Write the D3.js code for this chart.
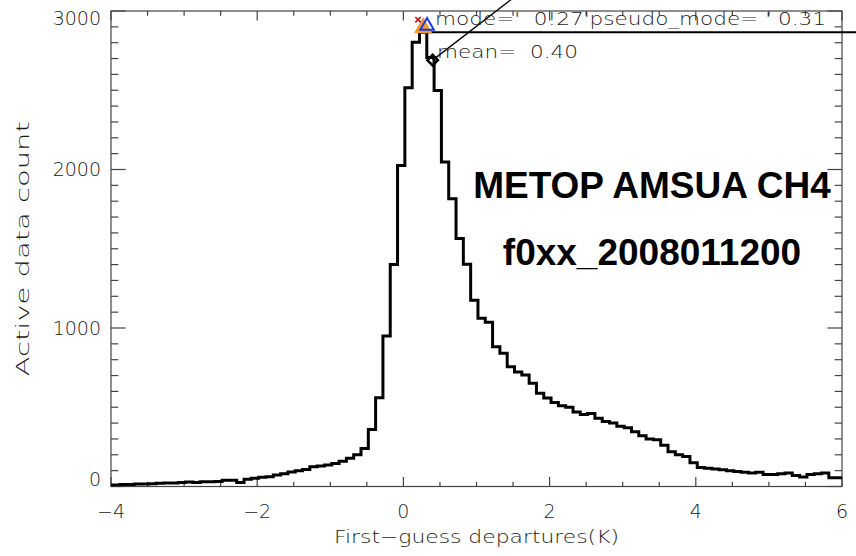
<!DOCTYPE html>
<html>
<head>
<meta charset="utf-8">
<script src="https://cdn.jsdelivr.net/npm/d3@7"></script>
<style>
  body { margin: 0; background: #fff; }
  svg { display: block; }
  .lab { font-family: "DejaVu Sans", sans-serif; font-weight: 200; fill: #1a1a1a; }
  .big { font-family: "Liberation Sans", Arial, sans-serif; font-weight: bold; fill: #000; }
</style>
</head>
<body>
<svg width="856" height="556"></svg>
<script>
// histogram of first-guess departures, bins 0.1 K wide
const binStart = -4.08;
const binWidth = 0.1;
const counts = [
  8, 10, 12, 12, 15, 16, 18, 20, 22, 22,
  25, 28, 25, 30, 30, 32, 40, 40, 25, 45,
  52, 58, 62, 72, 80, 92, 100, 108, 125, 130,
  135, 145, 160, 178, 200, 240, 360, 560, 950, 1400,
  2026, 2516, 2803, 2866, 2707, 2499, 2047, 1816, 1564, 1402,
  1175, 1062, 1037, 881, 841, 755, 723, 703, 652, 589,
  558, 530, 510, 500, 470, 455, 460, 430, 410, 400,
  380, 370, 345, 320, 300, 295, 260, 220, 200, 190,
  150, 120, 115, 110, 105, 100, 95, 90, 85, 90,
  75, 75, 80, 85, 70, 60, 75, 80, 85, 55,
  55
];
const xTicks = [-4, -2, 0, 2, 4, 6];
const yTicks = [0, 1000, 2000, 3000];
const mode = 0.27, pseudoMode = 0.31, mean = 0.40;
const modeCount = 2900, meanCount = 2690;
const title1 = "METOP AMSUA CH4";
const title2 = "f0xx_2008011200";

const svg = d3.select("svg");
const pLeft = 111, pRight = 842, pTop = 11, pBottom = 486.5;

const x = d3.scaleLinear().domain([-4, 6]).range([pLeft, pRight]);
const y = d3.scaleLinear().domain([0, 3000]).range([pBottom, pTop]);

svg.append("defs").append("clipPath").attr("id", "plotclip")
  .append("rect").attr("x", pLeft).attr("y", 0).attr("width", pRight - pLeft).attr("height", pBottom);

// axes (IDL style: ticks inside on all four sides)
const axisColor = "#444";
const majX = (pBottom - pTop) * 0.02, majY = (pRight - pLeft) * 0.02;
const g = svg.append("g");
g.append("rect").attr("x", pLeft).attr("y", pTop).attr("width", pRight - pLeft).attr("height", pBottom - pTop)
  .attr("fill", "none").attr("stroke", axisColor).attr("stroke-width", 1.2);

const xMinor = d3.range(-4, 6.001, 0.5);
xMinor.forEach(v => {
  const major = xTicks.some(t => Math.abs(t - v) < 1e-6);
  const len = major ? majX : majX / 2;
  g.append("line").attr("x1", x(v)).attr("x2", x(v)).attr("y1", pBottom).attr("y2", pBottom - len)
    .attr("stroke", axisColor).attr("stroke-width", 1.2);
  g.append("line").attr("x1", x(v)).attr("x2", x(v)).attr("y1", pTop).attr("y2", pTop + len)
    .attr("stroke", axisColor).attr("stroke-width", 1.2);
});
const yMinor = d3.range(0, 3001, 100);
yMinor.forEach(v => {
  const major = v % 1000 === 0;
  const len = major ? majY : majY / 2;
  g.append("line").attr("y1", y(v)).attr("y2", y(v)).attr("x1", pLeft).attr("x2", pLeft + len)
    .attr("stroke", axisColor).attr("stroke-width", 1.2);
  g.append("line").attr("y1", y(v)).attr("y2", y(v)).attr("x1", pRight).attr("x2", pRight - len)
    .attr("stroke", axisColor).attr("stroke-width", 1.2);
});

const fmt = d3.format("d");
g.selectAll(".xl").data(xTicks).enter().append("text").attr("class", "lab")
  .attr("x", d => x(d)).attr("y", 518).attr("text-anchor", "middle")
  .attr("font-size", 19).text(d => fmt(d));
g.selectAll(".yl").data(yTicks).enter().append("text").attr("class", "lab")
  .attr("x", 101).attr("y", d => Math.min(Math.max(y(d), pTop + 7), pBottom - 7.5))
  .attr("dy", "0.36em").attr("text-anchor", "end")
  .attr("font-size", 19).text(d => fmt(d));

g.append("text").attr("class", "lab").attr("x", (pLeft + pRight) / 2).attr("y", 543)
  .attr("text-anchor", "middle").attr("font-size", 18)
  .attr("textLength", 285).attr("lengthAdjust", "spacingAndGlyphs")
  .text("First\u2212guess departures(K)");
g.append("text").attr("class", "lab")
  .attr("transform", `translate(29, ${(pTop + pBottom) / 2}) rotate(-90)`)
  .attr("text-anchor", "middle").attr("font-size", 18)
  .attr("textLength", 255).attr("lengthAdjust", "spacingAndGlyphs")
  .text("Active data count");

// histogram step line
const steps = [];
counts.forEach((c, i) => {
  const x0 = binStart + i * binWidth;
  steps.push([x0, c], [x0 + binWidth, c]);
});
const line = d3.line().x(d => x(d[0])).y(d => y(d[1]));
svg.append("path").datum(steps).attr("d", line)
  .attr("clip-path", "url(#plotclip)")
  .attr("fill", "none").attr("stroke", "#000").attr("stroke-width", 3)
  .attr("stroke-linejoin", "miter");

// annotation lines (drawn unclipped, as in the original)
const peak = d3.max(counts);
svg.append("path").datum([[mode + binWidth / 2, peak], [7, peak]]).attr("d", line)
  .attr("stroke", "#000").attr("stroke-width", 2).attr("fill", "none");
svg.append("path").datum([[mean, meanCount], [3.22, 3695]]).attr("d", line)
  .attr("stroke", "#000").attr("stroke-width", 1.3).attr("fill", "none");

// markers
const tri = d3.symbol().type(d3.symbolTriangle).size(110);
svg.append("path").attr("d", tri).attr("transform", `translate(${x(mode)},${y(modeCount) + 1})`)
  .attr("fill", "#f59a2a").attr("stroke", "#f59a2a").attr("stroke-width", 1.5);
svg.append("path").attr("d", d3.symbol().type(d3.symbolTriangle).size(80))
  .attr("transform", `translate(${x(pseudoMode) + 1},${y(modeCount) - 1})`)
  .attr("fill", "none").attr("stroke", "#1a3ae8").attr("stroke-width", 2);
svg.append("path").attr("d", d3.symbol().type(d3.symbolX).size(20))
  .attr("transform", `translate(${x(0.2)},${y(2945)})`)
  .attr("fill", "none").attr("stroke", "#b01010").attr("stroke-width", 1.5);
svg.append("path").attr("d", d3.symbol().type(d3.symbolSquare).size(55))
  .attr("transform", `translate(${x(mean)},${y(meanCount)}) rotate(45)`)
  .attr("fill", "none").attr("stroke", "#000").attr("stroke-width", 2.5);

// stats text
svg.append("text").attr("class", "lab").attr("x", 435).attr("y", 25)
  .attr("font-size", 18).attr("textLength", 391).attr("lengthAdjust", "spacingAndGlyphs")
  .attr("xml:space", "preserve")
  .text("mode='  0!27'pseudo_mode= ' 0.31");
svg.append("text").attr("class", "lab").attr("x", 437).attr("y", 58)
  .attr("font-size", 18).attr("textLength", 141).attr("lengthAdjust", "spacingAndGlyphs")
  .attr("xml:space", "preserve")
  .text("mean=  0.40");

// titles
svg.append("text").attr("class", "big").attr("x", 652).attr("y", 198)
  .attr("text-anchor", "middle").attr("font-size", 37).text(title1);
svg.append("text").attr("class", "big").attr("x", 652).attr("y", 265)
  .attr("text-anchor", "middle").attr("font-size", 37).text(title2);
</script>
</body>
</html>
